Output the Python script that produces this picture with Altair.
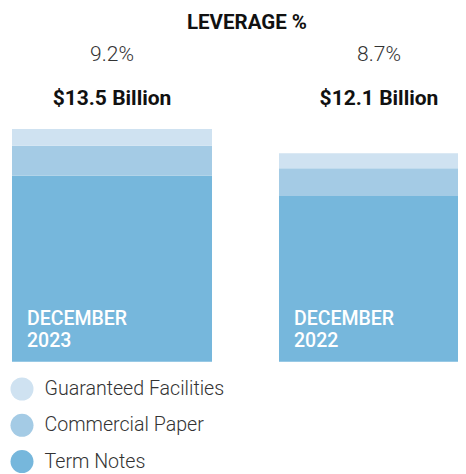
import altair as alt
import pandas as pd

periods = ["2023", "2022"]
period_labels = ["DECEMBER\n2023", "DECEMBER\n2022"]
term_notes = [10.79, 9.61]
commercial_paper = [1.74, 1.62]
guaranteed_facilities = [0.97, 0.87]
totals = ["$13.5 Billion", "$12.1 Billion"]
leverage = ["9.2%", "8.7%"]
series = ["Guaranteed Facilities", "Commercial Paper", "Term Notes"]
colors = ["#cfe2f1", "#a4cbe5", "#76b7dc"]

rows = []
for i, p in enumerate(periods):
    rows.append({"period": p, "series": "Term Notes", "value": term_notes[i], "ord": 0})
    rows.append({"period": p, "series": "Commercial Paper", "value": commercial_paper[i], "ord": 1})
    rows.append({"period": p, "series": "Guaranteed Facilities", "value": guaranteed_facilities[i], "ord": 2})
bars_df = pd.DataFrame(rows)
info_df = pd.DataFrame({"period": periods, "label": period_labels, "total": totals, "lev": leverage})

FONT = "Roboto"
xscale = alt.Scale(domain=periods, range=[4, 471], paddingInner=0.2509, paddingOuter=0)

bars = alt.Chart(bars_df).mark_bar(clip=True, strokeWidth=0).encode(
    x=alt.X("period:N", scale=xscale, axis=None, sort=periods),
    y=alt.Y("value:Q", stack="zero", axis=None,
            scale=alt.Scale(domain=[0, 13.5], range=[353.7, 121], nice=False, zero=True)),
    color=alt.Color("series:N", scale=alt.Scale(domain=series, range=colors),
                    legend=alt.Legend(title=None, orient="none", legendX=2.5, legendY=369.5,
                                      symbolType="circle", symbolSize=529, symbolStrokeWidth=0,
                                      symbolOpacity=1, labelFont=FONT, labelFontSize=19.6,
                                      labelFontWeight=300, labelColor="#333333", labelLimit=400,
                                      labelOffset=11, rowPadding=13.3, padding=0)),
    order=alt.Order("ord:Q"),
)

base = alt.Chart(info_df)

labels = base.mark_text(align="left", baseline="alphabetic", dx=15, font=FONT, fontSize=19.5,
                        fontWeight=500, color="white", lineBreak="\n", lineHeight=22).encode(
    x=alt.X("period:N", scale=xscale, axis=None, sort=periods, bandPosition=0),
    y=alt.value(317),
    text="label:N",
)

lev_text = base.mark_text(align="center", baseline="alphabetic", font=FONT, fontSize=21,
                          fontWeight=300, color="#333333").encode(
    x=alt.X("period:N", scale=xscale, axis=None, sort=periods),
    y=alt.value(53),
    text="lev:N",
)

total_text = base.mark_text(align="center", baseline="alphabetic", font=FONT, fontSize=21,
                            fontWeight="bold", color="#111111").encode(
    x=alt.X("period:N", scale=xscale, axis=None, sort=periods),
    y=alt.value(97),
    text="total:N",
)

title_df = pd.DataFrame({"t": ["LEVERAGE %"]})
title = alt.Chart(title_df).mark_text(align="center", baseline="alphabetic", font=FONT, fontSize=20.5,
                                      fontWeight="bold", color="#111111").encode(
    x=alt.value(239), y=alt.value(21), text="t:N")

chart = alt.layer(bars, labels, lev_text, total_text, title).properties(
    width=450, height=466, padding=0, autosize="none"
).configure_view(stroke=None)

chart.save("out.html", embed_options={"renderer": "svg", "actions": False})
